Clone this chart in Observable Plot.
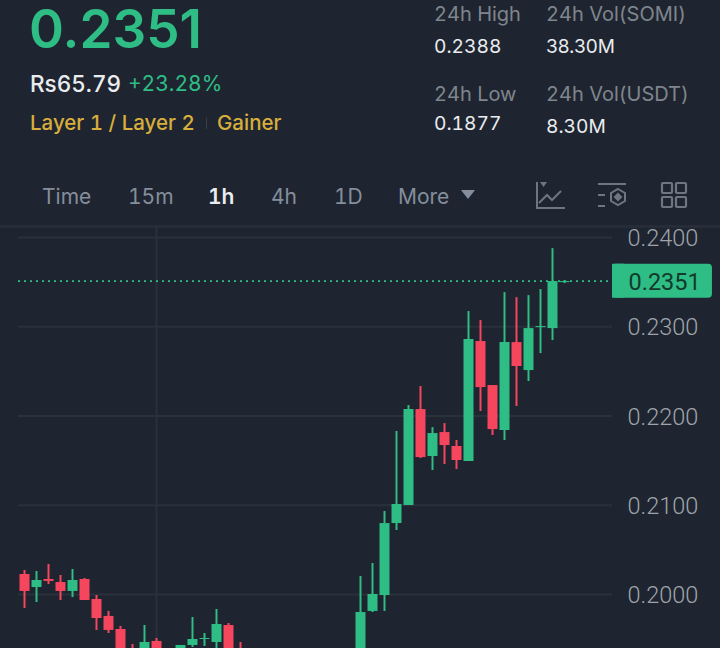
<!DOCTYPE html>
<html><head><meta charset="utf-8">
<script src="https://cdn.jsdelivr.net/npm/d3@7"></script>
<script src="https://cdn.jsdelivr.net/npm/@observablehq/plot@0.6"></script>
<style>
html,body{margin:0;padding:0;background:#1f2530;}
#page{position:relative;width:720px;height:648px;overflow:hidden;background:#1f2530;font-family:Inter,"Noto Sans",sans-serif;font-variant-numeric:tabular-nums;}
.t{position:absolute;white-space:nowrap;line-height:1;}
#chart{position:absolute;left:0;top:225px;}
#chart svg{display:block;}
.ic{position:absolute;top:180px;}
</style></head><body>
<div id="page">
<div class="t" style="left:29px;top:3px;font-size:53px;font-weight:600;color:#2ebd85;font-variant-numeric:normal;">0.2351</div>
<div class="t" style="left:30px;top:73px;font-size:22.500px;font-weight:500;color:#eaecef;">Rs65.79</div>
<div class="t" style="left:128px;top:73px;font-size:21px;font-weight:400;color:#2ebd85;">+23.28%</div>
<div class="t" style="left:30px;top:113px;font-size:20.500px;font-weight:500;color:#d8ae3c;">Layer 1 / Layer 2</div>
<div class="t" style="left:206px;top:118px;width:1px;height:11px;background:#3a3f47;"></div>
<div class="t" style="left:217px;top:113px;font-size:20.500px;font-weight:500;color:#d8ae3c;">Gainer</div>

<div class="t" style="left:434px;top:4px;font-size:20px;color:#7f858d;">24h High</div>
<div class="t" style="left:546px;top:4px;font-size:20px;color:#7f858d;">24h Vol(SOMI)</div>
<div class="t" style="left:434px;top:37px;font-size:19.200px;color:#eaecef;">0.2388</div>
<div class="t" style="left:546px;top:37px;font-size:19px;color:#eaecef;font-variant-numeric:normal;">38.30M</div>
<div class="t" style="left:434px;top:84px;font-size:20px;color:#7f858d;">24h Low</div>
<div class="t" style="left:546px;top:84px;font-size:20px;color:#7f858d;">24h Vol(USDT)</div>
<div class="t" style="left:434px;top:114px;font-size:19.200px;color:#eaecef;">0.1877</div>
<div class="t" style="left:546px;top:117px;font-size:19.200px;color:#eaecef;">8.30M</div>

<div class="t" style="left:42px;top:186px;font-size:21px;color:#848e9c;">Time</div>
<div class="t" style="left:128px;top:186px;font-size:21px;color:#848e9c;">15m</div>
<div class="t" style="left:208px;top:186px;font-size:21px;font-weight:600;color:#eaecef;">1h</div>
<div class="t" style="left:271px;top:186px;font-size:21px;color:#848e9c;">4h</div>
<div class="t" style="left:334px;top:186px;font-size:21px;color:#848e9c;">1D</div>
<div class="t" style="left:398px;top:186px;font-size:21px;color:#848e9c;">More</div>
<svg class="ic" style="left:460px;top:189px" width="16" height="12"><path d="M1 1H15L8 10Z" fill="#848e9c"/></svg>
<svg class="ic" style="left:534px" width="32" height="30" fill="none" stroke="#6f7680" stroke-width="2"><path d="M3 2V28H31M5 23L13 15L18 20L27 11"/><path d="M6 2H13L9.500 7Z" fill="#6f7680" stroke="none"/></svg>
<svg class="ic" style="left:596px" width="32" height="30" fill="none" stroke="#6f7680" stroke-width="2"><path d="M2 4H30M2 15H9M2 26H9"/><path d="M22 9L29 13V21L22 25L15 21V13Z"/><path d="M22 14L25 17L22 20L19 17Z" fill="#6f7680"/></svg>
<svg class="ic" style="left:660px" width="28" height="30" fill="none" stroke="#6f7680" stroke-width="2.200"><rect x="2" y="3" width="10" height="10" rx="1"/><rect x="16" y="3" width="10" height="10" rx="1"/><rect x="2" y="17" width="10" height="10" rx="1"/><rect x="16" y="17" width="10" height="10" rx="1"/></svg>
<div class="t" style="left:0;top:225px;width:720px;height:3px;background:#272d38;"></div>
<div id="chart"></div>
</div>
<script>
const slots  = [0,1,2,3,4,5,6,7,8,9,10,11,13,14,15,16,17,18,28,29,30,31,32,33,34,35,36,37,38,39,40,41,42,43,44,45];
const opens  = [.20224,.20078,.20168,.20134,.20034,.20168,.19944,.19754,.19608,.19373,.19317,.19474,.19300,.19429,.19496,.19462,.19653,.19350,.19260,.19810,.19989,.20795,.20997,.22072,.21546,.21814,.21658,.21490,.22834,.22341,.21837,.22822,.22509,.22990,.22979,.23494];
const closes = [.20034,.20157,.20146,.20034,.20157,.19933,.19731,.19597,.19350,.19300,.19462,.19317,.19429,.19496,.19507,.19664,.19317,.19250,.19798,.20000,.20795,.21008,.22072,.21534,.21803,.21669,.21501,.22856,.22318,.21848,.22822,.22554,.22979,.23002,.23506,.23506];
const highs  = [.20269,.20258,.20336,.20213,.20280,.20179,.19989,.19810,.19642,.19440,.19653,.19507,.19429,.19742,.19563,.19832,.19675,.19462,.20202,.20347,.20930,.21826,.22117,.22330,.21870,.21915,.21725,.23170,.23069,.22341,.23382,.23326,.23349,.23416,.23875,.23517];
const lows   = [.19843,.19910,.20112,.19933,.19966,.19933,.19597,.19563,.19317,.19250,.19260,.19260,.19200,.19406,.19418,.19373,.19260,.19200,.19200,.19798,.19810,.20717,.20997,.21523,.21389,.21456,.21400,.21490,.22050,.21781,.21725,.22106,.22386,.22699,.22845,.23483];
const priceTicks = [.20,.21,.22,.23,.24];
const lastPrice = .2351;
const lastLabel = "0.2351";
const crossSlot = 11;

const candles = slots.map((s,i)=>({s,o:opens[i],c:closes[i],h:highs[i],l:lows[i]}));
const UP="#2ebd85", DOWN="#f6465d", GRID="#2b313b", AXIS="#9ea4ac";
const col = d => d.c>=d.o ? UP : DOWN;

const plot = Plot.plot({
  width:720, height:423,
  marginLeft:0, marginRight:108, marginTop:0, marginBottom:0,
  style:{background:"transparent"},
  x:{domain:[-2,49],axis:null},
  y:{domain:[.19395,.24134],axis:null},
  marks:[
    Plot.ruleY(priceTicks,{x1:-.5,x2:49,stroke:GRID,strokeWidth:2}),
    Plot.ruleX([crossSlot],{stroke:GRID,strokeWidth:2}),
    Plot.ruleY([lastPrice],{x1:-.5,x2:49,stroke:UP,strokeWidth:1.8,strokeDasharray:"2 4"}),
    Plot.ruleX(candles,{x:"s",y1:"l",y2:"h",stroke:col,strokeWidth:2}),
    Plot.ruleX(candles,{x:"s",y1:"o",y2:"c",stroke:col,strokeWidth:10}),
    Plot.rect([lastPrice],{x1:49,x2:57.33,y1:d=>d-.0019,y2:d=>d+.0019,fill:UP,rx:4}),
    Plot.rect([lastPrice],{x1:49,x2:50,y1:d=>d-.0019,y2:d=>d+.0019,fill:UP}),
    Plot.axisY(priceTicks,{anchor:"right",tickSize:0,tickPadding:15,dy:1,tickFormat:d3.format(".4f"),color:AXIS,fontSize:23.5,fontFamily:"Roboto",fontWeight:300,label:null}),
    Plot.text([lastPrice],{x:49,y:d=>d,dx:16,dy:1,text:()=>lastLabel,textAnchor:"start",fill:"#123a2c",fontSize:23.5,fontFamily:"Roboto"})
  ]
});
document.getElementById("chart").appendChild(plot);
</script>
</body></html>
